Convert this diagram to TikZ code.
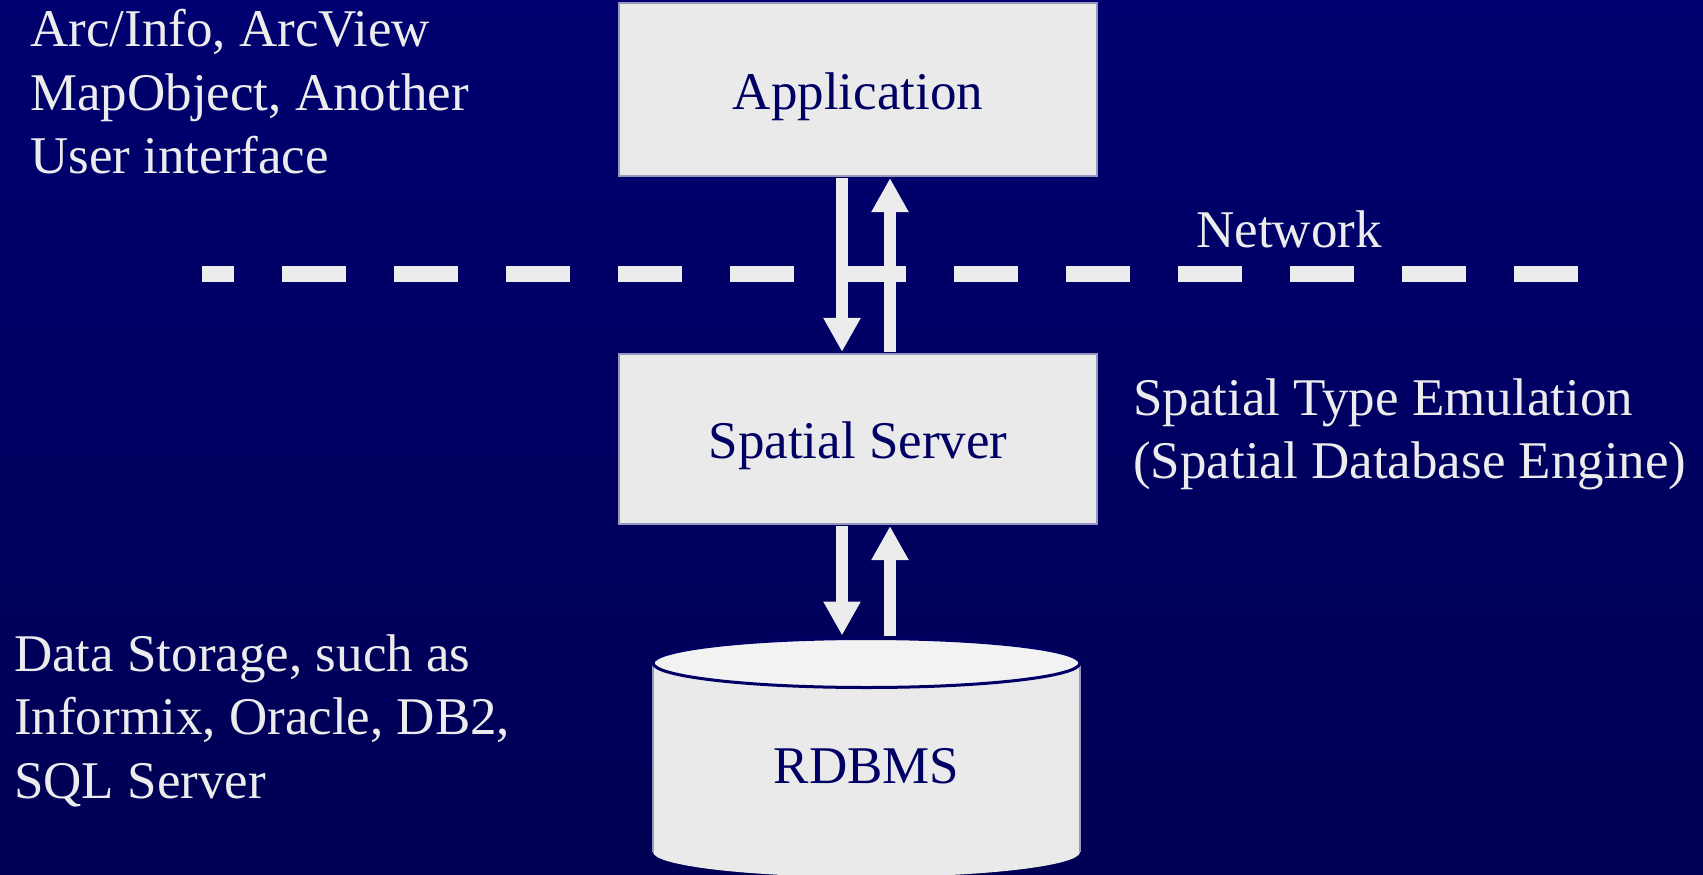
\documentclass[tikz,border=0pt]{standalone}
\usepackage{fontspec}
\setmainfont{Liberation Serif}
\usetikzlibrary{arrows.meta}

\definecolor{bgtop}{RGB}{0,0,112}
\definecolor{bgbot}{RGB}{0,0,84}
\definecolor{boxfill}{RGB}{234,234,234}
\definecolor{capfill}{RGB}{242,242,242}
\definecolor{ink}{RGB}{0,0,100}
\definecolor{pale}{RGB}{236,236,236}
\definecolor{rim}{RGB}{150,150,190}

\begin{document}
\begin{tikzpicture}[x=1pt,y=-1pt,
  every node/.style={font=\fontsize{53}{63.5}\selectfont, inner sep=0pt},
  block/.style={fill=boxfill, draw=rim, line width=1.2pt, minimum width=478pt,
                text=ink, text height=44pt, text depth=5pt},
  note/.style={text=pale, anchor=base west},
  flow/.style={draw=pale, line width=12pt, -{Triangle[length=34pt,width=35pt]},
               shorten <=1.5pt, shorten >=1.5pt},
  net/.style={draw=pale, line width=16pt, dash pattern=on 64pt off 48pt, dash phase=32pt}]

% background
\useasboundingbox (0,0) rectangle (1703,875);
\shade[top color=bgtop, bottom color=bgbot] (0,0) rectangle (1703,875);

% network boundary
\coordinate (netW) at (202,274);
\coordinate (netE) at (1578,274);
\draw[net] (netW) -- (netE);
\node[note] (netlbl) at (1196,247) {Network};

% tiers
\node[block, minimum height=173pt] (app) at (858,89.5) {Application};
\node[block, minimum height=170pt] (srv) at (858,439) {Spatial Server};

% database cylinder
\fill[boxfill] (653,663) rectangle (1080,852);
\fill[boxfill] (866.5,852) ellipse[x radius=213.5, y radius=25];
\draw[rim, line width=1.2pt] (653,663) -- (653,852);
\draw[rim, line width=1.2pt] (1080,663) -- (1080,852);
\filldraw[fill=capfill, draw=ink, line width=3pt] (866.5,663) ellipse[x radius=213.5, y radius=24.5];
\node[text=ink, anchor=base] (db) at (866.5,783) {RDBMS};
\coordinate (dbinL) at (842,637);
\coordinate (dboutR) at (890,637);

% request / response arrows
\draw[flow] ([xshift=-16pt]app.south) -- ([xshift=-16pt]srv.north);
\draw[flow] ([xshift=32pt]srv.north) -- ([xshift=32pt]app.south);
\draw[flow] ([xshift=-16pt]srv.south) -- (dbinL);
\draw[flow] (dboutR) -- ([xshift=32pt]srv.south);

% side notes
\node[note] (clients) at (30,47) {\begin{tabular}[t]{@{}l@{}}Arc/Info, ArcView\\MapObject, Another\\User interface\end{tabular}};
\node[note] (engine) at (1133,415) {\begin{tabular}[t]{@{}l@{}}Spatial Type Emulation\\(Spatial Database Engine)\end{tabular}};
\node[note] (storage) at (14,671) {\begin{tabular}[t]{@{}l@{}}Data Storage, such as\\Informix, Oracle, DB2,\\SQL Server\end{tabular}};
\end{tikzpicture}
\end{document}
